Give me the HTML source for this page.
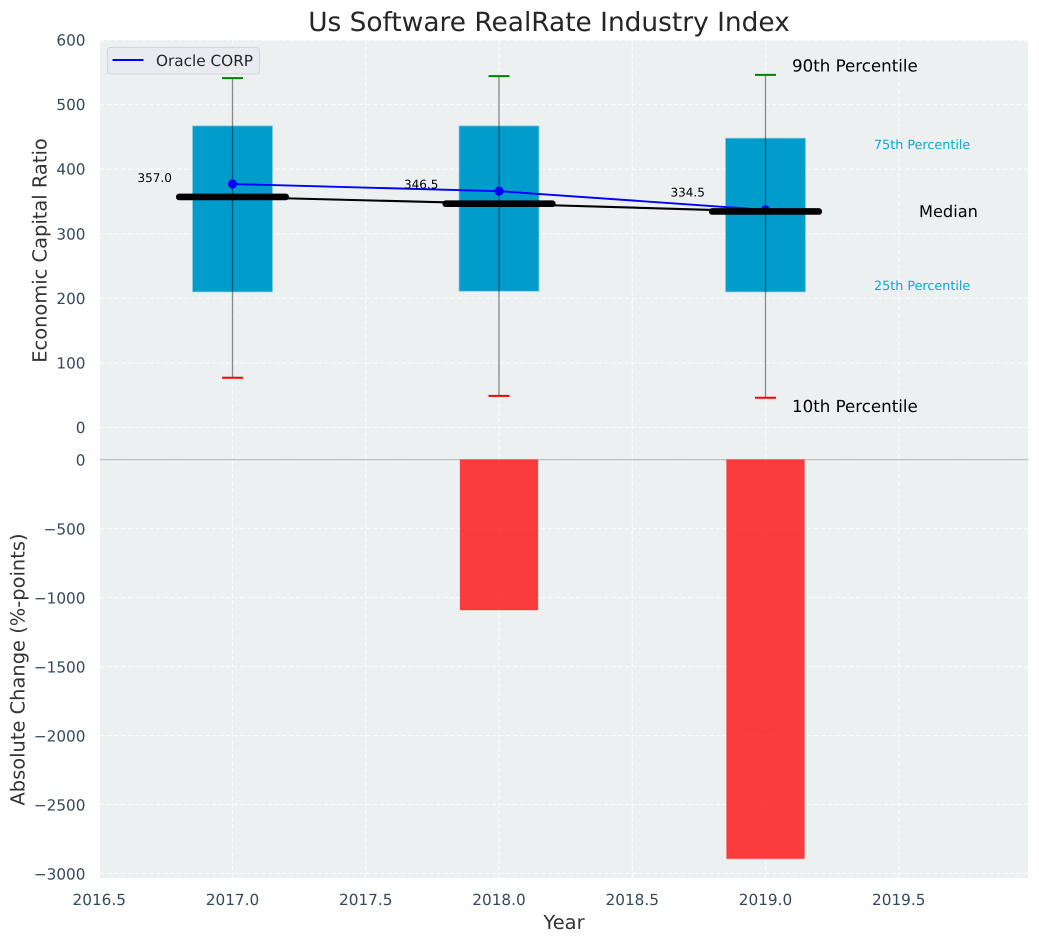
<!DOCTYPE html>
<html>
<head>
<meta charset="utf-8">
<style>
html,body{margin:0;padding:0;background:#fff;width:1039px;height:942px;overflow:hidden}
svg{display:block;font-family:"DejaVu Sans","Liberation Sans",sans-serif;text-rendering:geometricPrecision}
</style>
</head>
<body>
<svg id="chart" xmlns="http://www.w3.org/2000/svg" width="1039" height="942" viewBox="0 0 1039 942">
  <rect x="100" y="40" width="928" height="838" fill="#ecf0f1"/>
  <text x="549" y="31" font-size="26.4" text-anchor="middle" fill="#262626">Us Software RealRate Industry Index</text>
  <text x="564" y="929" font-size="19.44" text-anchor="middle" fill="#333333">Year</text>
  <text transform="translate(46.5 250.5) rotate(-90)" font-size="19.44" text-anchor="middle" fill="#333333">Economic Capital Ratio</text>
  <text transform="translate(24.5 669.5) rotate(-90)" font-size="19.44" text-anchor="middle" fill="#333333">Absolute Change (%-points)</text>
</svg>
<script>
const years = [2017, 2018, 2019];
const oracle = [377, 366, 337];
const median = [357.0, 346.5, 334.5];
const p10 = [77, 49, 46];
const p25 = [210, 211, 210];
const p75 = [467, 467, 448];
const p90 = [541, 544, 546];
const absChange = [0, -1090, -2893];
const xTicks = [2016.5, 2017, 2017.5, 2018, 2018.5, 2019, 2019.5];
const topYTicks = [0, 100, 200, 300, 400, 500, 600];
const bottomYTicks = [0, -500, -1000, -1500, -2000, -2500, -3000];

const svg = document.getElementById('chart');
const NS = 'http://www.w3.org/2000/svg';
const x = v => 232.5 + (v - 2017) * 266.5;
const yTop = v => 427.5 - v * 0.6458;
const yBot = v => 459.7 - v * 0.1379;

function mk(tag, attrs, text) {
  const el = document.createElementNS(NS, tag);
  for (const k in attrs) el.setAttribute(k, attrs[k]);
  if (text !== undefined) el.textContent = text;
  svg.appendChild(el);
  return el;
}
const fmtNum = v => String(v).replace('-', '\u2212');
const GRID = {stroke: '#ffffff', 'stroke-width': 1.1, 'stroke-dasharray': '4.5 2.5', opacity: 0.85};

xTicks.forEach(t => {
  const el = mk('line', {x1: x(t), x2: x(t), y1: 40, y2: 878, ...GRID});
  
  
});
topYTicks.forEach(t => {
  const el = mk('line', {x1: 100, x2: 1028, y1: yTop(t), y2: yTop(t), ...GRID});
  
  
  const lb = mk('text', {x: 85.5, y: yTop(t) + 5.5, 'font-size': 15.28, 'text-anchor': 'end', fill: '#34495e'}, fmtNum(t));
  
  
});
bottomYTicks.forEach(t => {
  const el = mk('line', {x1: 100, x2: 1028, y1: yBot(t), y2: yBot(t), ...GRID});
  
  
  const lb = mk('text', {x: 85.5, y: yBot(t) + 6, 'font-size': 15.28, 'text-anchor': 'end', fill: '#34495e'}, fmtNum(t));
  
  
});
xTicks.forEach(t => {
  const lb = mk('text', {x: x(t), y: 905, 'font-size': 15.28, 'text-anchor': 'middle', fill: '#34495e'}, t.toFixed(1));
  
  
});

const zero = mk('line', {x1: 100, x2: 1028, y1: yBot(0), y2: yBot(0), stroke: '#b8b8b8', 'stroke-width': 1.2});



years.forEach((yr, i) => {
  const v = absChange[i];
  const bar = mk('rect', {x: x(yr - 0.146), width: x(yr + 0.146) - x(yr - 0.146), y: yBot(0), height: yBot(v) - yBot(0), fill: '#ff0000', 'fill-opacity': 0.75, stroke: '#ff0000', 'stroke-opacity': 0.25, 'stroke-width': 1});
  
  
});

years.forEach((yr, i) => {
  const box = mk('rect', {x: x(yr - 0.15), width: x(yr + 0.15) - x(yr - 0.15), y: yTop(p75[i]), height: yTop(p25[i]) - yTop(p75[i]), fill: '#009ccc', stroke: '#7fc9e2', 'stroke-width': 0.8});
  
  
  const wh = mk('line', {x1: x(yr), x2: x(yr), y1: yTop(p90[i]), y2: yTop(p10[i]), stroke: '#000000', 'stroke-opacity': 0.45, 'stroke-width': 1.3});
  
  
  const capHi = mk('line', {x1: x(yr) - 10.5, x2: x(yr) + 10.5, y1: yTop(p90[i]), y2: yTop(p90[i]), stroke: '#008000', 'stroke-width': 2});
  
  
  const capLo = mk('line', {x1: x(yr) - 10.5, x2: x(yr) + 10.5, y1: yTop(p10[i]), y2: yTop(p10[i]), stroke: '#ff0000', 'stroke-width': 2});
  
  
});

const medianPts = years.map((yr, i) => x(yr) + ',' + yTop(median[i])).join(' ');
const medLine = mk('polyline', {points: medianPts, fill: 'none', stroke: '#000000', 'stroke-width': 2.1});



const oraclePts = years.map((yr, i) => x(yr) + ',' + yTop(oracle[i])).join(' ');
const orLine = mk('polyline', {points: oraclePts, fill: 'none', stroke: '#0000ff', 'stroke-width': 1.9});


years.forEach((yr, i) => {
  const dot = mk('circle', {cx: x(yr), cy: yTop(oracle[i]), r: 4.6, fill: '#0000ff'});
  
  
});

years.forEach((yr, i) => {
  const seg = mk('line', {x1: x(yr - 0.2), x2: x(yr + 0.2), y1: yTop(median[i]), y2: yTop(median[i]), stroke: '#000000', 'stroke-width': 6.6, 'stroke-linecap': 'round'});
  
  
  const lb = mk('text', {x: x(yr) - 95, y: yTop(median[i]) - 15, 'font-size': 12, fill: '#000000'}, median[i].toFixed(1));
  
  
});

const li = years.length - 1;
const lx = x(years[li]);
const l90 = mk('text', {x: lx + 26.5, y: yTop(p90[li]) - 3.5, 'font-size': 16.67, fill: '#000000'}, '90th Percentile');


const l10 = mk('text', {x: lx + 26.5, y: yTop(p10[li]) + 14, 'font-size': 16.67, fill: '#000000'}, '10th Percentile');


const l75 = mk('text', {x: lx + 108.5, y: yTop(p75[li]) + 11, 'font-size': 12.75, fill: '#12a5d2'}, '75th Percentile');


const l25 = mk('text', {x: lx + 108.5, y: yTop(p25[li]) - 2, 'font-size': 12.75, fill: '#12a5d2'}, '25th Percentile');


const lm = mk('text', {x: lx + 153.5, y: yTop(median[li]) + 5.5, 'font-size': 16.2, fill: '#000000'}, 'Median');



const legendBox = mk('rect', {x: 107.5, y: 47.5, width: 152, height: 26.5, rx: 3, fill: '#eaebf1', stroke: '#d4d6da', 'stroke-width': 1});


const legendLine = mk('line', {x1: 112.5, x2: 143.5, y1: 60, y2: 60, stroke: '#0000ff', 'stroke-width': 2});


const legendText = mk('text', {x: 156, y: 66, 'font-size': 15.28, fill: '#262626'}, 'Oracle CORP');


</script>
</body>
</html>
